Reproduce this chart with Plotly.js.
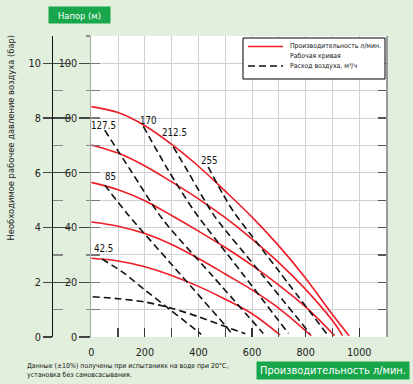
<!DOCTYPE html>
<html>
<head>
<meta charset="utf-8">
<script src="https://cdn.plot.ly/plotly-3.0.1.min.js"></script>
<style>html,body{margin:0;padding:0;background:#e1efdc;}#chart{width:413px;height:384px;}</style>
</head>
<body>
<div id="chart"></div>
<script>
// ---- Data (flow in l/min, pressure in bar) ----
const curve1Flow = [0, 100, 200, 300, 400, 500, 600, 700, 800, 900, 962];
const curve1Bar  = [8.42, 8.2, 7.72, 7.04, 6.24, 5.33, 4.38, 3.33, 2.15, 0.82, 0.05];
const curve2Flow = [0, 100, 200, 300, 400, 500, 600, 700, 800, 900, 938];
const curve2Bar  = [7.02, 6.72, 6.25, 5.67, 5.05, 4.36, 3.58, 2.72, 1.74, 0.6, 0.05];
const curve3Flow = [0, 100, 200, 300, 400, 500, 600, 700, 800, 908];
const curve3Bar  = [5.65, 5.38, 4.98, 4.44, 3.87, 3.27, 2.62, 1.9, 1.1, 0.05];
const curve4Flow = [0, 100, 200, 300, 400, 500, 600, 700, 821];
const curve4Bar  = [4.2, 4.05, 3.78, 3.38, 2.87, 2.3, 1.72, 1.05, 0.05];
const curve5Flow = [0, 100, 200, 300, 400, 500, 600, 704];
const curve5Bar  = [2.88, 2.78, 2.57, 2.25, 1.85, 1.38, 0.85, 0.08];

const air0Flow    = [5, 100, 200, 300, 400, 500, 575];
const air0Bar     = [1.47, 1.4, 1.28, 1.05, 0.74, 0.38, 0.12];
const air425Flow  = [40, 120, 200, 290, 390, 410];
const air425Bar   = [2.85, 2.35, 1.72, 1.03, 0.26, 0.1];
const air85Flow   = [50, 138, 300, 500, 525];
const air85Bar    = [5.55, 4.46, 2.65, 0.42, 0.12];
const air1275Flow = [50, 150, 268, 450, 642];
const air1275Bar  = [7.56, 6.04, 4.28, 2.26, 0.13];
const air170Flow  = [194, 287, 386, 560, 736];
const air170Bar   = [7.7, 6.1, 4.58, 2.37, 0.13];
const air2125Flow = [306, 361, 411, 461, 640, 816];
const air2125Bar  = [6.95, 6.04, 5.19, 4.4, 2.25, 0.13];
const air255Flow  = [436, 493, 531, 700, 878];
const air255Bar   = [6.22, 5.19, 4.58, 2.41, 0.13];

const airLabels     = ['127.5', '170', '212.5', '255', '85', '42.5'];
const airLabelFlow  = [47, 212, 311, 442, 70, 45];
const airLabelBar   = [7.72, 7.9, 7.48, 6.44, 5.88, 3.22];

const legendRed1 = 'Производительность л/мин.';
const legendRed2 = 'Рабочая кривая';
const legendAir  = 'Расход воздуха, м³/ч';
const headTitle  = 'Напор (м)';
const flowTitle  = 'Производительность л/мин.';
const barTitle   = 'Необходимое рабочее давление воздуха (бар)';
const noteLine1  = 'Данные (±10%) получены при испытаниях на воде при 20°C,';
const noteLine2  = 'установка без самовсасывания.';

// ---- Font selection and fitting ----
const ctx = document.createElement('canvas').getContext('2d');
function available(f) {
  const s = 'Производительность 1000 Wmi';
  ctx.font = '40px monospace'; const a = ctx.measureText(s).width;
  ctx.font = `40px '${f}', monospace`; const b = ctx.measureText(s).width;
  ctx.font = '40px serif'; const c = ctx.measureText(s).width;
  ctx.font = `40px '${f}', serif`; const d = ctx.measureText(s).width;
  return a !== b && c !== d;
}
const candidates = ['Liberation Sans Narrow', 'DejaVu Sans Condensed', 'Roboto Condensed', 'Arial Narrow', 'Liberation Sans', 'Roboto', 'DejaVu Sans'];
const FAM = candidates.find(available) || 'sans-serif';
const FONT = `'${FAM}', sans-serif`;
function fit(text, target) {
  ctx.font = `20px ${FONT}`;
  return 20 * target / ctx.measureText(text).width;
}

const RED = '#ee1c25';
const GREEN = '#17a74a';
const GRID = '#d0d0d0';

const W = 413, H = 384, ML = 20, MR = 27, MT = 36, MB = 47;
const PW = W - ML - MR, PH = H - MT - MB;
const px2x = p => (p - ML) / PW;
const py2y = p => (H - MB - p) / PH;

const tickSize = Math.min(fit('100', 18.5), 13.5);
const tickFont = {family: FONT, size: tickSize, color: '#222'};
const labelSize = Math.min(fit('127.5', 25), 12.5);
const legendSize = fit(legendRed1, 91);

const redSets = [[curve1Flow, curve1Bar], [curve2Flow, curve2Bar], [curve3Flow, curve3Bar], [curve4Flow, curve4Bar], [curve5Flow, curve5Bar]];
const airSets = [[air0Flow, air0Bar], [air425Flow, air425Bar], [air85Flow, air85Bar], [air1275Flow, air1275Bar], [air170Flow, air170Bar], [air2125Flow, air2125Bar], [air255Flow, air255Bar]];
const redLine = {color: RED, width: 1.6};
const airLine = {color: '#111', width: 1.6, dash: '7px,4px'};

const traces = [];
redSets.forEach((s, i) => traces.push({
  type: 'scatter', mode: 'lines', x: s[0], y: s[1], xaxis: 'x', yaxis: 'y2',
  line: Object.assign({shape: 'spline', smoothing: 1}, redLine),
  name: legendRed1 + ' ' + legendRed2, showlegend: false, hoverinfo: 'skip'
}));
airSets.forEach((s, i) => traces.push({
  type: 'scatter', mode: 'lines', x: s[0], y: s[1], xaxis: 'x', yaxis: 'y2',
  line: Object.assign({shape: 'spline', smoothing: 0.8}, airLine),
  name: legendAir, showlegend: false, hoverinfo: 'skip'
}));
['y', 'y3', 'y4', 'y5'].forEach(ax => traces.push({type: 'scatter', mode: 'lines', x: [], y: [], xaxis: 'x', yaxis: ax, showlegend: false, hoverinfo: 'skip'}));

const annotations = airLabels.map((t, i) => ({
  xref: 'x', yref: 'y2', x: airLabelFlow[i], y: airLabelBar[i], text: t, showarrow: false,
  xanchor: 'center', yanchor: 'middle', font: {family: FONT, size: labelSize, color: '#111'}
}));
function paperText(text, x, y, size, extra) {
  return Object.assign({xref: 'paper', yref: 'paper', x: px2x(x), y: py2y(y), text: text, showarrow: false,
    xanchor: 'center', yanchor: 'middle', font: {family: FONT, size: size, color: '#111'}}, extra || {});
}
annotations.push(paperText(headTitle, 79.5, 15, fit(headTitle, 43), {bgcolor: GREEN, width: 61, height: 16, borderpad: 0,
  font: {family: FONT, size: fit(headTitle, 43), color: '#fff'}}));
annotations.push(paperText(flowTitle, 333, 370.5, fit(flowTitle, 146), {bgcolor: GREEN, width: 152, height: 17, borderpad: 0,
  font: {family: FONT, size: fit(flowTitle, 146), color: '#fff'}}));
annotations.push(paperText(noteLine1 + '<br>' + noteLine2, 25, 370.5, fit(noteLine1, 202), {xanchor: 'left', align: 'left'}));
annotations.push(paperText(barTitle, 10, 137.5, fit(barTitle, 206), {textangle: -90, font: {family: FONT, size: fit(barTitle, 206), color: '#222'}}));
// legend texts
annotations.push(paperText(legendRed1, 288, 45.5, legendSize, {xanchor: 'left'}));
annotations.push(paperText(legendRed2, 288, 55.5, legendSize, {xanchor: 'left'}));
annotations.push(paperText(legendAir, 288, 66, legendSize, {xanchor: 'left'}));

const shapes = [
  {type: 'rect', xref: 'paper', yref: 'paper', x0: px2x(243), x1: px2x(385), y0: py2y(38), y1: py2y(79),
    fillcolor: '#fff', line: {color: '#000', width: 1}, layer: 'above'},
  {type: 'line', xref: 'paper', yref: 'paper', x0: px2x(248), x1: px2x(283), y0: py2y(46.5), y1: py2y(46.5), line: redLine, layer: 'above'},
  {type: 'line', xref: 'paper', yref: 'paper', x0: px2x(248), x1: px2x(283), y0: py2y(66), y1: py2y(66), line: airLine, layer: 'above'}
];

const layout = {
  width: W, height: H,
  margin: {l: ML, r: MR, t: MT, b: MB, pad: 0},
  paper_bgcolor: '#e1efdc', plot_bgcolor: '#ffffff',
  showlegend: false,
  xaxis: {domain: [px2x(91.3), 1], range: [0, 1100], tick0: 0, dtick: 200, ticks: 'inside', ticklen: 9, tickcolor: '#333', tickwidth: 1.2,
    showgrid: true, gridcolor: GRID, gridwidth: 1, zeroline: false, showline: false, tickfont: tickFont, ticklabelstandoff: 7,
    minor: {dtick: 100, ticks: 'inside', ticklen: 9, tickcolor: '#444', showgrid: true, gridcolor: GRID}},
  yaxis: {range: [0, 110], tick0: 0, dtick: 20, anchor: 'x', side: 'left', ticks: 'outside', ticklen: 11, tickcolor: '#444', tickwidth: 1.2,
    showgrid: true, gridcolor: GRID, gridwidth: 1, zeroline: false, showline: true, linecolor: '#aaa', linewidth: 1, tickfont: tickFont,
    minor: {dtick: 10, ticks: 'outside', ticklen: 4, tickcolor: '#888', showgrid: true, gridcolor: GRID}},
  yaxis5: {overlaying: 'y', anchor: 'x', side: 'left', range: [0, 110], tick0: 0, dtick: 10, ticks: 'inside', ticklen: 9, tickcolor: '#777', tickwidth: 1.2,
    showticklabels: false, showgrid: false, zeroline: false, showline: false},
  yaxis3: {overlaying: 'y', anchor: 'x', side: 'right', range: [0, 110], tick0: 0, dtick: 10, ticks: 'inside', ticklen: 8, tickcolor: '#555', tickwidth: 1.2,
    showticklabels: false, showgrid: false, zeroline: false, showline: true, linecolor: '#9a9a9a', linewidth: 2},
  yaxis2: {overlaying: 'y', anchor: 'free', position: px2x(52), side: 'left', range: [0, 11], tick0: 0, dtick: 2, ticks: 'outside', ticklen: 9,
    tickcolor: '#444', tickwidth: 1.2, showgrid: false, zeroline: false, showline: true, linecolor: '#111', linewidth: 1.3, tickfont: tickFont},
  yaxis4: {overlaying: 'y', anchor: 'free', position: px2x(52), side: 'left', range: [0, 11], tick0: 0, dtick: 2, ticks: 'inside', ticklen: 18,
    tickcolor: '#444', tickwidth: 1.2, showticklabels: false, showgrid: false, zeroline: false, showline: false,
    minor: {dtick: 1, ticks: 'inside', ticklen: 10, tickcolor: '#888'}},
  annotations: annotations,
  shapes: shapes
};

Plotly.newPlot('chart', traces, layout, {staticPlot: true, displayModeBar: false});
</script>
</body>
</html>
